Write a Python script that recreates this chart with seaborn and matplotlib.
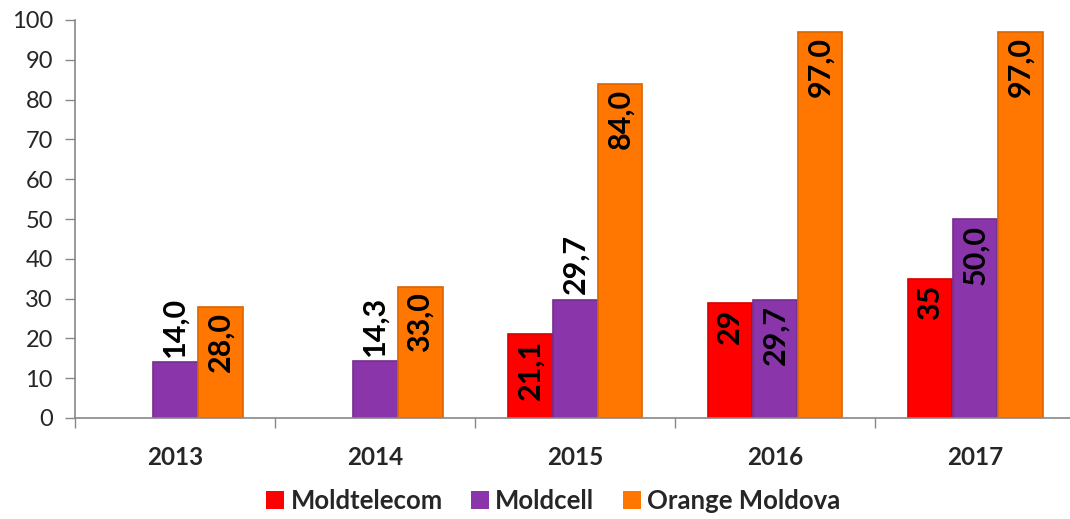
import numpy as np
import pandas as pd
import matplotlib
matplotlib.use("Agg")
import matplotlib.pyplot as plt
from matplotlib.patches import Patch
import seaborn as sns

years = ["2013", "2014", "2015", "2016", "2017"]
operators = ["Moldtelecom", "Moldcell", "Orange Moldova"]
moldtelecom = [np.nan, np.nan, 21.1, 29, 35]
moldcell = [14.0, 14.3, 29.7, 29.7, 50.0]
orange = [28.0, 33.0, 84.0, 97.0, 97.0]
label_formats = {"Moldtelecom": "{:g}", "Moldcell": "{:.1f}", "Orange Moldova": "{:.1f}"}
outside_labels = {("Moldcell", "2013"), ("Moldcell", "2014"), ("Moldcell", "2015")}

colors = {"Moldtelecom": "#FF0000", "Moldcell": "#8B35AA", "Orange Moldova": "#FF7700"}

df = pd.DataFrame({
    "year": years * 3,
    "operator": [o for o in operators for _ in years],
    "value": moldtelecom + moldcell + orange,
})

sns.set_theme(style="white")
plt.rcParams["font.family"] = ["Lato", "DejaVu Sans"]

fig = plt.figure(figsize=(10.7, 5.19), dpi=100)
ax = fig.add_axes([75 / 1070, 101 / 519, 1000 / 1070, 398 / 519])

sns.barplot(data=df, x="year", y="value", hue="operator", order=years,
            hue_order=operators, palette=colors, width=0.675, gap=0,
            saturation=1, edgecolor="none", linewidth=0, legend=False, ax=ax)

# bevel-like shading on bars
for cont, op in zip(ax.containers, operators):
    base = matplotlib.colors.to_rgb(colors[op])
    dark = tuple(c * 0.85 for c in base)
    for bar in cont:
        h = bar.get_height()
        if np.isnan(h):
            continue
        bar.set_edgecolor(dark)
        bar.set_linewidth(1.2)

# data labels
for cont, op in zip(ax.containers, operators):
    for bar, yr in zip(cont, years):
        h = bar.get_height()
        if np.isnan(h):
            continue
        txt = label_formats[op].format(h).replace(".", ",")
        xc = bar.get_x() + bar.get_width() / 2
        if (op, yr) in outside_labels:
            ax.annotate(txt, (xc, h), xytext=(0, 4), textcoords="offset points",
                        rotation=90, ha="center", va="bottom", fontsize=22,
                        fontweight="bold", color="black")
        else:
            ax.annotate(txt, (xc, h), xytext=(0, -4), textcoords="offset points",
                        rotation=90, ha="center", va="top", fontsize=22,
                        fontweight="bold", color="black")

ax.set_ylim(0, 100)
ax.set_xlim(-0.5, 4.5)
ax.set_yticks(np.arange(0, 101, 10))
ax.set_xlabel("")
ax.set_ylabel("")
ax.tick_params(axis="y", which="major", length=7, width=1, color="#888888",
               direction="out", pad=9, labelsize=17, left=True)
ax.tick_params(axis="x", which="major", length=0, pad=20, labelsize=17.5)
ax.set_xticks(np.arange(-0.5, 5, 1), minor=True)
ax.tick_params(axis="x", which="minor", length=7, width=1, color="#888888",
               direction="out", bottom=True)
for lbl in ax.get_xticklabels():
    lbl.set_fontweight("bold")

for side in ["top", "right"]:
    ax.spines[side].set_visible(False)
for side in ["left", "bottom"]:
    ax.spines[side].set_color("#888888")
    ax.spines[side].set_linewidth(1.2)

handles = [Patch(facecolor=colors[o], edgecolor="none") for o in operators]
leg = fig.legend(handles, operators, loc="lower center", bbox_to_anchor=(0.517, -0.033),
                 ncol=3, frameon=False, handlelength=0.7, handleheight=0.7,
                 handletextpad=0.25, columnspacing=1.1,
                 prop={"weight": "bold", "size": 18.5})

fig.savefig("out.png", dpi=100)
